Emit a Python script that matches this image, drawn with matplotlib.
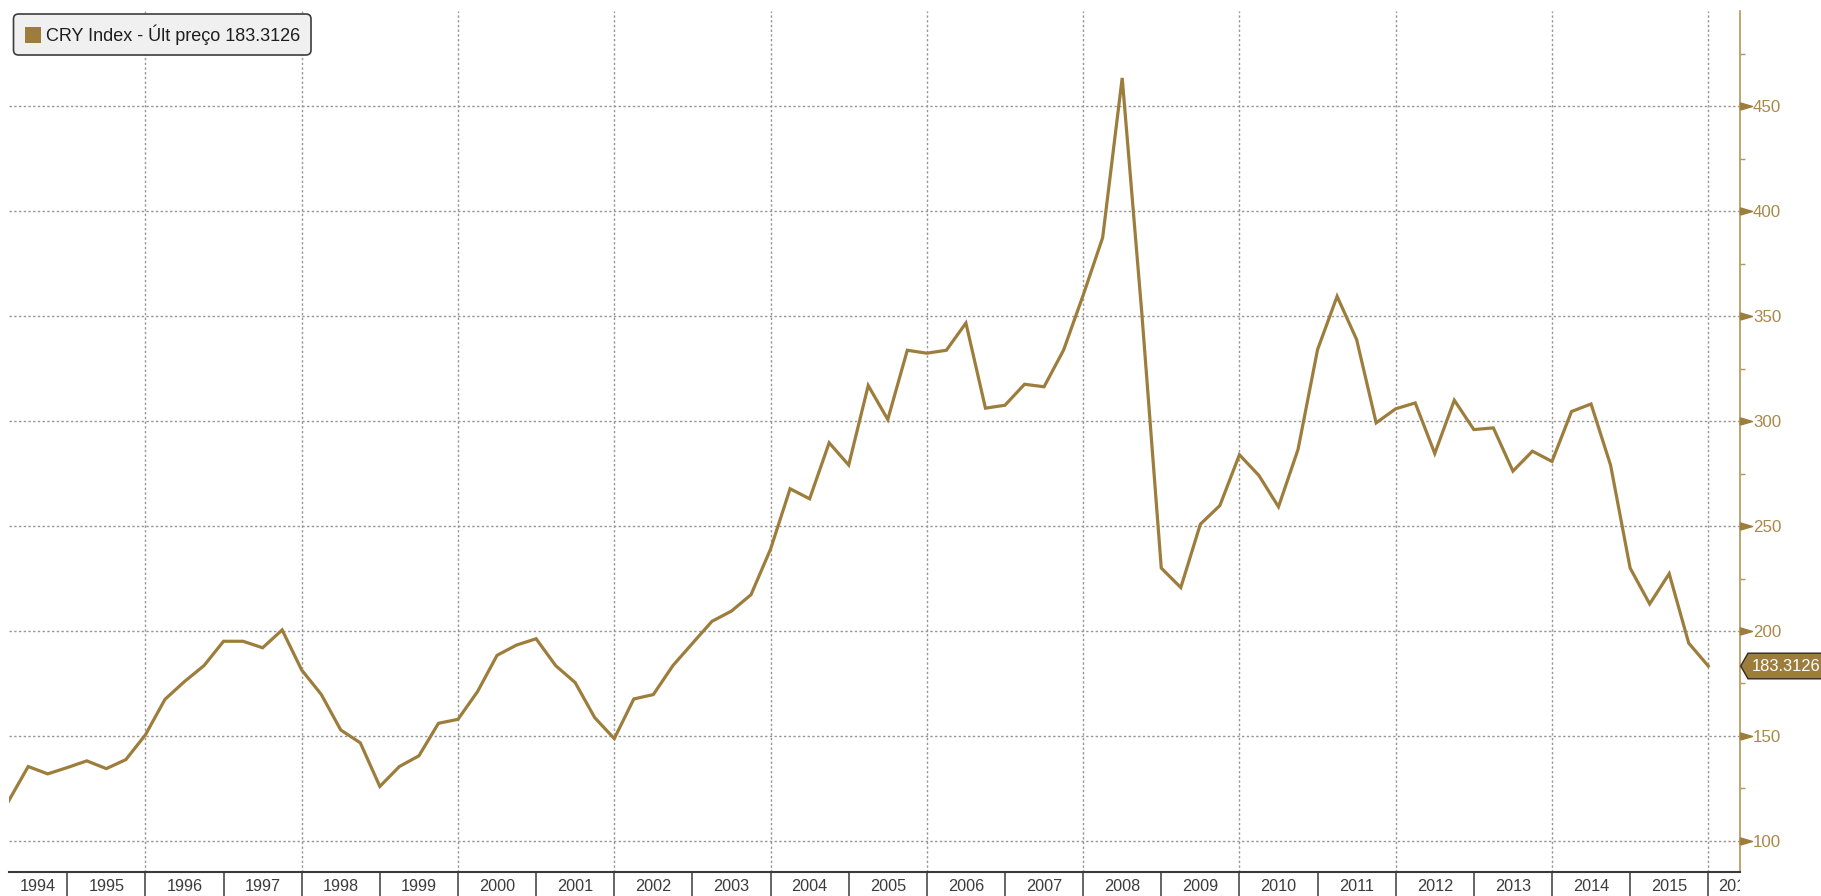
import numpy as np
import matplotlib
matplotlib.use("Agg")
import matplotlib.pyplot as plt
import matplotlib.transforms as mtransforms
from matplotlib.path import Path
from matplotlib.patches import Polygon, FancyBboxPatch, Rectangle

# ---------------- data ----------------
start_year = 1994.25          # first quarterly observation (end of Q1 1994)
quarter_step = 0.25
cry_values = [
    119.0, 135.4, 131.9,
    134.9, 138.1, 134.4, 138.7,
    150.5, 167.4, 175.9, 183.5,
    195.1, 195.1, 192.0, 200.5,
    181.4, 169.8, 152.8, 146.7,
    125.9, 135.4, 140.5, 156.0,
    157.9, 171.1, 188.4, 193.3,
    196.3, 183.5, 175.4, 158.7,
    148.7, 167.6, 169.7, 183.5,
    194.1, 204.6, 209.5, 217.3,
    239.0, 267.8, 263.0, 289.7,
    279.1, 317.0, 300.8, 333.8,
    332.4, 333.8, 346.8, 306.2,
    307.6, 317.6, 316.4, 333.9,
    360.0, 387.5, 463.6, 352.0,
    230.0, 220.7, 250.9, 259.8,
    284.0, 274.1, 259.2, 286.5,
    334.1, 359.5, 338.9, 299.2,
    305.9, 308.7, 284.6, 310.0,
    296.0, 296.8, 276.2, 285.7,
    280.8, 304.6, 308.2, 279.0,
    230.0, 212.9, 227.3, 194.2,
    183.3126,
]
last_value = 183.3126
legend_label = "CRY Index - Últ preço 183.3126"
value_tag = "183.3126"
year_labels = list(range(1994, 2017))
grid_years = list(range(1996, 2017, 2))
y_major = [100, 150, 200, 250, 300, 350, 400, 450]
y_minor = [125, 175, 225, 275, 325, 375, 425, 475]

x_vals = start_year + quarter_step * np.arange(len(cry_values))

# ---------------- style ----------------
plt.rcParams['font.family'] = ['Liberation Sans', 'DejaVu Sans']
LINE = '#9c7d3c'
GOLD_TXT = '#a8894a'
SPINE = '#b39655'
GRID = '#969696'
DARK = '#3a3a3a'
DOT = (0, (1.7, 1.7))

W, H = 1821, 896
fig = plt.figure(figsize=(W / 100, H / 100), dpi=100)
fig.patch.set_facecolor('white')

L, R, B, T = 8.65, 1740.0, 872.0, 11.0   # pixel box of plot area (top-origin)
ax = fig.add_axes([L / W, 1 - B / H, (R - L) / W, (B - T) / H])
ax.set_facecolor('white')
xmin, xmax = 1994.25, 2016.406
ax.set_xlim(xmin, xmax)
ax.set_ylim(85.13, 495.5)

# grid
for gy in grid_years:
    ax.axvline(gy, color=GRID, lw=1.0, ls=DOT, zorder=1)
ax.set_yticks(y_major)
ax.set_yticks(y_minor, minor=True)
ax.yaxis.grid(True, which='major', color=GRID, lw=1.0, ls=DOT, zorder=1)
ax.set_axisbelow(True)

# series
ax.plot(x_vals, cry_values, color=LINE, lw=2.3, solid_joinstyle='miter', zorder=3)

# spines
for s in ['left', 'top']:
    ax.spines[s].set_visible(False)
ax.spines['bottom'].set_color(DARK)
ax.spines['bottom'].set_linewidth(1.5)
ax.spines['right'].set_color(SPINE)
ax.spines['right'].set_linewidth(1.2)

# right y axis
ax.yaxis.tick_right()
ax.tick_params(axis='y', which='major', length=0, pad=9.3, labelsize=12.2,
               labelcolor=GOLD_TXT)
ax.tick_params(axis='y', which='minor', length=3.6, width=1.0, color=SPINE,
               direction='out')
ax.tick_params(axis='y', which='both', left=False, right=True,
               labelleft=False, labelright=True)

tri = Path([(0, -1), (3.4, 0), (0, 1), (0, -1)])
ax.plot(np.ones(len(y_major)), y_major,
        transform=mtransforms.blended_transform_factory(ax.transAxes, ax.transData),
        marker=tri, ms=17.3, ls='none', color=LINE, clip_on=False, zorder=5)

# x axis: year separators + centred year labels
ax.set_xticks([y for y in year_labels if xmin < y <= xmax])
ax.set_xticklabels([])
ax.tick_params(axis='x', which='major', length=17.5, width=1.1, color=DARK,
               direction='out')

clip_box = mtransforms.TransformedBbox(
    mtransforms.Bbox([[L / W, 0.0], [R / W, 1.0]]), fig.transFigure)
xtrans = mtransforms.blended_transform_factory(ax.transData, fig.transFigure)
for yr in year_labels:
    lo, hi = max(yr, xmin), min(yr + 1, xmax)
    if hi <= lo:
        continue
    if hi < yr + 1:   # year cut by the right edge: label starts just after its tick
        t = fig.text(lo + 0.13, 1 - 886.5 / H, str(yr), transform=xtrans,
                     ha='left', va='center', fontsize=11.7, color='#3c3c3c')
    else:
        t = fig.text((lo + hi) / 2, 1 - 886.5 / H, str(yr), transform=xtrans,
                     ha='center', va='center', fontsize=11.7, color='#3c3c3c')
    t.set_clip_box(clip_box)
    t.set_clip_on(True)

# value tag on right axis
fig.canvas.draw()
yc = ax.transData.transform((xmax, last_value))[1]
tag = Polygon([(R + 0.7, yc), (R + 8, yc + 12.8), (W + 5, yc + 12.8),
               (W + 5, yc - 12.8), (R + 8, yc - 12.8)], closed=True,
              facecolor=LINE, edgecolor='#2e2a22', lw=1.0,
              transform=mtransforms.IdentityTransform())
fig.add_artist(tag)
fig.text((R + 11.5) / W, yc / H, value_tag, color='white', fontsize=11.9,
         ha='left', va='center')

# legend box
ident = mtransforms.IdentityTransform()
box = FancyBboxPatch((13.5, H - 55), 297.5, 41,
                     boxstyle='round,pad=0,rounding_size=5',
                     facecolor='#f0f0f0', edgecolor='#3c3c3c', lw=1.2,
                     transform=ident)
fig.add_artist(box)
fig.add_artist(Rectangle((25, H - 43), 16, 16, facecolor=LINE,
                         edgecolor='none', transform=ident))
fig.text(46 / W, (H - 35) / H, legend_label, fontsize=13, color='#1e1e1e',
         ha='left', va='center')

fig.savefig('out.png', dpi=100, facecolor='white')
